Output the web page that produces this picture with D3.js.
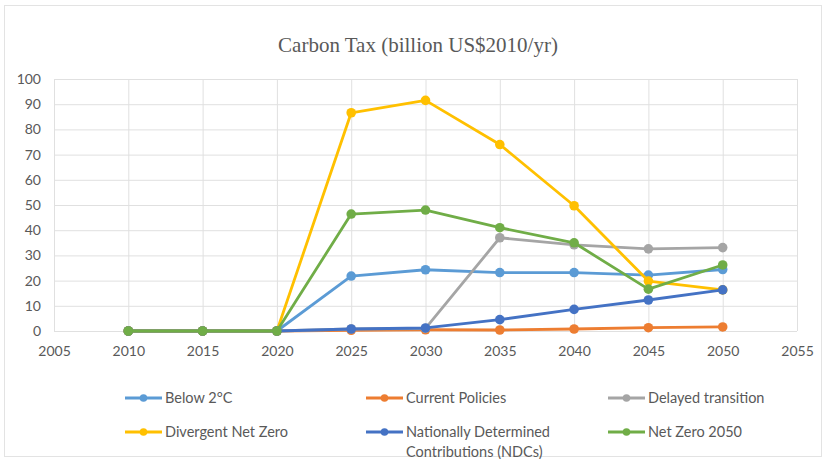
<!DOCTYPE html>
<html><head><meta charset="utf-8">
<script src="https://cdn.jsdelivr.net/npm/d3@7"></script>
<style>body{margin:0;background:#fff}svg{display:block}</style>
</head><body><svg id="c" width="827" height="459"></svg>
<script>
const years = [2010, 2015, 2020, 2025, 2030, 2035, 2040, 2045, 2050];
const below2C = [0, 0, 0, 21.8, 24.3, 23.2, 23.2, 22.2, 24.4];
const currentPolicies = [0, 0, 0, 0.3, 0.5, 0.4, 0.8, 1.3, 1.6];
const delayedTransition = [0, 0, 0, 0.8, 1.0, 37.0, 34.2, 32.6, 33.1];
const divergentNetZero = [0, 0, 0, 86.6, 91.5, 74.0, 49.7, 19.8, 16.3];
const ndcs = [0, 0, 0, 0.8, 1.2, 4.5, 8.6, 12.3, 16.3];
const netZero2050 = [0, 0, 0, 46.4, 48.0, 41.0, 35.0, 16.6, 26.2];
const seriesNames = ["Below 2°C", "Current Policies", "Delayed transition", "Divergent Net Zero", "Nationally Determined Contributions (NDCs)", "Net Zero 2050"];
const seriesColors = ["#5B9BD5", "#ED7D31", "#A5A5A5", "#FFC000", "#4472C4", "#70AD47"];
const xTicks = [2005, 2010, 2015, 2020, 2025, 2030, 2035, 2040, 2045, 2050, 2055];
const yTicks = [0, 10, 20, 30, 40, 50, 60, 70, 80, 90, 100];
const title = "Carbon Tax (billion US$2010/yr)";

const seriesValues = [below2C, currentPolicies, delayedTransition, divergentNetZero, ndcs, netZero2050];
const svg = d3.select("#c");
const font = "Lato, 'Open Sans', sans-serif";

svg.append("rect").attr("x", 4.5).attr("y", 5.5).attr("width", 817).attr("height", 451)
  .attr("fill", "#fff").attr("stroke", "#e3e3e3");

const x = d3.scaleLinear().domain([2005, 2055]).range([54, 797]);
const y = d3.scaleLinear().domain([0, 100]).range([331, 79]);

svg.append("text").attr("x", 418).attr("y", 52).attr("text-anchor", "middle")
  .attr("font-family", "'Liberation Serif', 'Times New Roman', serif").attr("font-size", 21)
  .attr("fill", "#595959").text(title);

// gridlines
const g = svg.append("g");
g.selectAll("line.h").data(yTicks).join("line")
  .attr("x1", x(2005)).attr("x2", x(2055)).attr("y1", d => y(d) + 0.5).attr("y2", d => y(d) + 0.5)
  .attr("stroke", "#e0e0e0").attr("stroke-width", 1);
g.selectAll("line.v").data(xTicks).join("line")
  .attr("y1", y(0)).attr("y2", y(100)).attr("x1", d => x(d) + 0.5).attr("x2", d => x(d) + 0.5)
  .attr("stroke", "#e0e0e0").attr("stroke-width", 1);

// axes
const xAxis = svg.append("g").attr("transform", `translate(0,${y(0)})`)
  .call(d3.axisBottom(x).tickValues(xTicks).tickFormat(d3.format("d")).tickSize(0).tickPadding(15));
const yAxis = svg.append("g").attr("transform", `translate(${x(2005)},0)`)
  .call(d3.axisLeft(y).tickValues(yTicks).tickSize(0).tickPadding(13));
[xAxis, yAxis].forEach(a => {
  a.select(".domain").remove();
  a.selectAll("text").attr("font-family", font).attr("font-size", 14).attr("fill", "#595959");
});

const line = d3.line().x((d, i) => x(years[i])).y(d => y(d));
seriesValues.forEach((vals, s) => {
  svg.append("path").datum(vals).attr("d", line).attr("fill", "none")
    .attr("stroke", seriesColors[s]).attr("stroke-width", 2.8).attr("stroke-linejoin", "round");
  svg.append("g").selectAll("circle").data(vals).join("circle")
    .attr("cx", (d, i) => x(years[i])).attr("cy", d => y(d)).attr("r", 4.8)
    .attr("fill", seriesColors[s]);
});

// legend
const legPos = [[125, 398], [366, 398], [608, 398], [125, 432], [366, 432], [608, 432]];
seriesNames.forEach((name, s) => {
  const [lx, ly] = legPos[s];
  const lg = svg.append("g");
  lg.append("line").attr("x1", lx).attr("x2", lx + 37).attr("y1", ly).attr("y2", ly)
    .attr("stroke", seriesColors[s]).attr("stroke-width", 2.8);
  lg.append("circle").attr("cx", lx + 18.5).attr("cy", ly).attr("r", 3.8).attr("fill", seriesColors[s]);
  const t = lg.append("text").attr("x", lx + 40).attr("y", ly + 5)
    .attr("font-family", font).attr("font-size", 14.5).attr("fill", "#595959");
  if (s === 4) {
    t.append("tspan").attr("x", lx + 40).text("Nationally Determined");
    t.append("tspan").attr("x", lx + 40).attr("dy", 20).text("Contributions (NDCs)");
  } else t.text(name);
});
</script></body></html>
